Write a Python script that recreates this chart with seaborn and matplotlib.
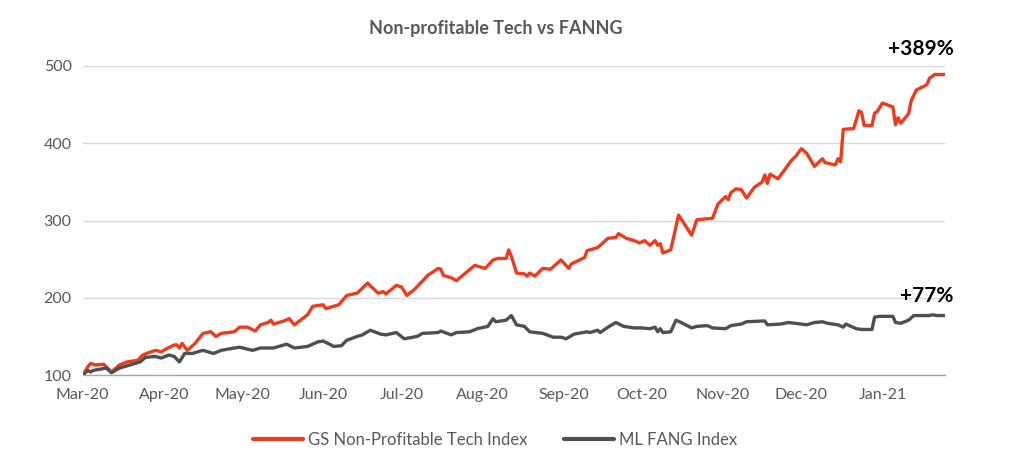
import numpy as np
import pandas as pd
import matplotlib
matplotlib.use("Agg")
import matplotlib.pyplot as plt
import matplotlib.dates as mdates
import seaborn as sns

# Data: day offsets from 1 Mar 2020 and index levels (start = 100)
start_date = "2020-03-01"

gs_days = [0, 2, 3, 5, 8, 11, 14, 17, 21, 23, 26, 28, 30, 32, 35, 36, 37, 38, 40, 43,
           46, 49, 51, 53, 58, 60, 63, 66, 68, 71, 72, 73, 77, 79, 81, 86, 88, 92, 93, 98,
           101, 105, 109, 113, 115, 116, 120, 122, 124, 127, 132, 136, 137, 138, 141, 143, 144, 150, 154, 157,
           159, 162, 163, 164, 166, 169, 170, 171, 173, 176, 179, 183, 186, 187, 192, 193, 197, 199, 201, 204,
           205, 208, 211, 213, 215, 217, 219, 220, 221, 222, 225, 228, 233, 235, 241, 243, 246, 247, 248, 250,
           252, 254, 257, 260, 261, 262, 263, 266, 268, 271, 273, 275, 277, 280, 283, 284, 288, 289, 290, 291,
           295, 297, 298, 299, 302, 303, 304, 306, 310, 311, 312, 313, 316, 317, 319, 322, 323, 324, 326, 330]
gs_values = [100, 111, 115, 113, 114, 104, 113, 117, 119, 126, 130, 132, 130, 134, 139, 139, 135, 141, 132, 141,
             154, 156, 150, 154, 156, 162, 162, 157, 165, 168, 171, 166, 170, 173, 165, 178, 189, 191, 186, 191,
             203, 206, 219, 206, 208, 205, 216, 214, 203, 211, 229, 238, 237, 229, 226, 222, 225, 242, 238, 249,
             251, 251, 262, 254, 232, 231, 228, 232, 228, 238, 237, 249, 238, 244, 252, 261, 265, 271, 277, 278,
             283, 277, 274, 271, 274, 268, 274, 268, 270, 258, 262, 307, 281, 301, 303, 321, 331, 327, 336, 341,
             340, 329, 343, 350, 359, 348, 360, 354, 363, 377, 384, 393, 387, 370, 380, 375, 372, 380, 376, 418,
             419, 442, 440, 423, 423, 439, 441, 452, 447, 424, 433, 426, 438, 455, 469, 474, 476, 484, 489, 489]

ml_days = [0, 2, 3, 4, 9, 11, 14, 18, 22, 24, 28, 30, 33, 35, 37, 39, 42, 46, 50, 53,
           58, 60, 65, 68, 73, 78, 81, 86, 90, 92, 95, 96, 99, 101, 105, 107, 110, 114, 116, 120,
           123, 128, 130, 136, 137, 141, 143, 148, 151, 155, 157, 158, 162, 164, 166, 169, 171, 176, 180, 183,
           185, 188, 193, 194, 197, 198, 201, 204, 207, 211, 214, 217, 219, 220, 221, 222, 225, 227, 229, 233,
           235, 239, 241, 246, 248, 252, 254, 261, 262, 267, 270, 275, 277, 280, 283, 285, 289, 291, 292, 296,
           298, 302, 303, 305, 310, 311, 313, 316, 318, 324, 325, 327, 330]
ml_values = [100, 106, 104, 106, 109, 103, 109, 113, 117, 123, 124, 122, 126, 124, 117, 128, 128, 132, 128, 132,
             135, 136, 132, 135, 135, 140, 135, 137, 143, 144, 139, 137, 138, 145, 150, 152, 158, 153, 152, 155,
             147, 150, 154, 155, 157, 152, 155, 156, 160, 163, 173, 169, 171, 177, 165, 163, 156, 154, 149, 149,
             147, 153, 156, 155, 158, 155, 162, 168, 163, 161, 161, 160, 162, 156, 160, 155, 156, 171, 168, 161,
             163, 164, 161, 160, 164, 166, 169, 170, 165, 166, 168, 166, 165, 168, 169, 167, 165, 162, 166, 160,
             159, 159, 175, 176, 176, 168, 167, 171, 177, 177, 178, 177, 177]

gs_label = "GS Non-Profitable Tech Index"
ml_label = "ML FANG Index"
gs_note = "+389%"
ml_note = "+77%"

base = pd.Timestamp(start_date)
df = pd.concat([
    pd.DataFrame({"Date": base + pd.to_timedelta(gs_days, unit="D"), "Value": gs_values, "Index": gs_label}),
    pd.DataFrame({"Date": base + pd.to_timedelta(ml_days, unit="D"), "Value": ml_values, "Index": ml_label}),
], ignore_index=True)

sns.set_style("white")
plt.rcParams["font.family"] = ["Lato", "DejaVu Sans"]

red = "#EE3B1E"
dark = "#4F4F4F"
text_grey = "#595959"

fig = plt.figure(figsize=(10.24, 4.70), dpi=100)
ax = fig.add_axes([0.0808, 0.202, 0.8422, 0.6576])

sns.lineplot(data=df, x="Date", y="Value", hue="Index", palette={gs_label: red, ml_label: dark},
             linewidth=2.4, ax=ax, legend=False)

ax.set_xlim(base, base + pd.Timedelta(days=330))
ax.set_ylim(100, 500)
ax.set_yticks([100, 200, 300, 400, 500])
ax.yaxis.grid(True, color="#D9D9D9", linewidth=1)
ax.set_axisbelow(True)

ax.xaxis.set_major_locator(mdates.MonthLocator())
ax.xaxis.set_major_formatter(mdates.DateFormatter("%b-%y"))

for side in ["top", "right", "left"]:
    ax.spines[side].set_visible(False)
ax.spines["bottom"].set_color("#A6A6A6")
ax.spines["bottom"].set_linewidth(1)

ax.tick_params(axis="x", colors=text_grey, labelsize=11.5, length=5, width=1, direction="out", pad=4)
ax.tick_params(axis="x", color="#A6A6A6")
ax.tick_params(axis="y", colors=text_grey, labelsize=11.5, length=0, pad=8)
ax.set_xlabel("")
ax.set_ylabel("")

fig.text(0.484, 0.94, "Non-profitable Tech vs FANNG", ha="center", va="center",
         fontsize=13, fontweight="bold", color=text_grey)

# end-of-period annotations
ax.annotate(gs_note, xy=(df["Date"].max(), gs_values[-1]), xytext=(6, 11), textcoords="offset points",
            ha="right", va="bottom", fontsize=15, fontweight="bold", color="black")
ax.annotate(ml_note, xy=(df["Date"].max(), ml_values[-1]), xytext=(6, 7), textcoords="offset points",
            ha="right", va="bottom", fontsize=15, fontweight="bold", color="black")

handles = [plt.Line2D([], [], color=red, linewidth=3), plt.Line2D([], [], color=dark, linewidth=3)]
leg = fig.legend(handles, [gs_label, ml_label], loc="center", bbox_to_anchor=(0.483, 0.064), ncol=2,
                 frameon=False, fontsize=12, handlelength=3.0, handletextpad=0.3, columnspacing=2.2)
for t in leg.get_texts():
    t.set_color(text_grey)

fig.savefig("out.png", dpi=100)
